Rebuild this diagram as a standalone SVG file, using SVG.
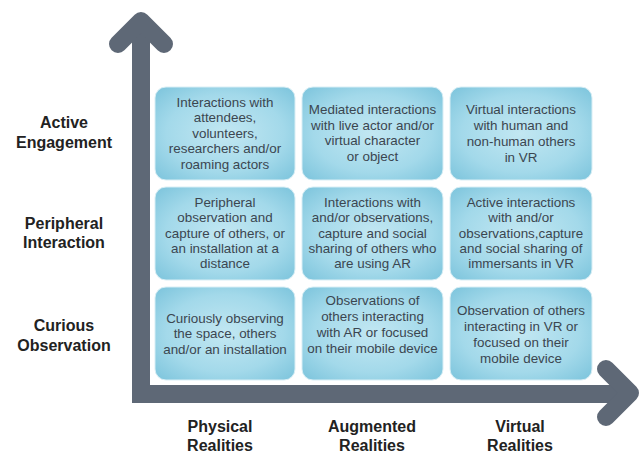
<svg xmlns="http://www.w3.org/2000/svg" width="641" height="455" viewBox="0 0 641 455">
<defs>
<radialGradient id="bg" cx="50%" cy="50%" r="70%">
<stop offset="0" stop-color="#c2e7f2"/>
<stop offset="0.6" stop-color="#a3d9ea"/>
<stop offset="1" stop-color="#7cc4dc"/>
</radialGradient>
<style>
.box{fill:url(#bg);stroke:#d8eef5;stroke-width:1}
.t{font-family:"Liberation Sans",Arial,sans-serif;font-size:13.4px;fill:#3b4650;text-anchor:middle}
.lab{font-family:"Liberation Sans",Arial,sans-serif;font-size:16px;font-weight:bold;fill:#222;text-anchor:middle}
.ax{fill:none;stroke:#5e6876;stroke-width:18}
.hd{fill:none;stroke:#5e6876;stroke-width:18;stroke-linecap:round;stroke-linejoin:round}
</style>
</defs>
<rect width="641" height="455" fill="#fff"/>
<g id="axes">
<path class="ax" d="M141,21 V394 H628" stroke-linejoin="miter"/>
<polyline class="hd" points="118,44 141,21 164,44"/>
<polyline class="hd" points="606,369 630,393 606,417"/>
</g>
<g id="n11"><rect class="box" x="155" y="87" width="140" height="93" rx="11"/>
<text class="t" x="225"><tspan x="225" y="106.5">Interactions with</tspan><tspan x="225" y="122">attendees,</tspan><tspan x="225" y="137.5">volunteers,</tspan><tspan x="225" y="153">researchers and/or</tspan><tspan x="225" y="169">roaming actors</tspan></text></g>
<g id="n12"><rect class="box" x="302" y="87" width="141" height="93" rx="11"/>
<text class="t" x="372.5"><tspan x="372.5" y="113.5">Mediated interactions</tspan><tspan x="372.5" y="129.5">with live actor and/or</tspan><tspan x="372.5" y="145">virtual character</tspan><tspan x="372.5" y="161">or object</tspan></text></g>
<g id="n13"><rect class="box" x="450" y="87" width="142" height="93" rx="11"/>
<text class="t" x="521"><tspan x="521" y="113.5">Virtual interactions</tspan><tspan x="521" y="129.5">with human and</tspan><tspan x="521" y="146">non-human others</tspan><tspan x="521" y="161.5">in VR</tspan></text></g>
<g id="n21"><rect class="box" x="155" y="187" width="140" height="93" rx="11"/>
<text class="t" x="225"><tspan x="225" y="206.5">Peripheral</tspan><tspan x="225" y="222">observation and</tspan><tspan x="225" y="237.5">capture of others, or</tspan><tspan x="225" y="253">an installation at a</tspan><tspan x="225" y="268">distance</tspan></text></g>
<g id="n22"><rect class="box" x="302" y="187" width="141" height="93" rx="11"/>
<text class="t" x="372.5"><tspan x="372.5" y="206.5">Interactions with</tspan><tspan x="372.5" y="222">and/or observations,</tspan><tspan x="372.5" y="237.5">capture and social</tspan><tspan x="372.5" y="253">sharing of others who</tspan><tspan x="372.5" y="268">are using AR</tspan></text></g>
<g id="n23"><rect class="box" x="450" y="187" width="142" height="93" rx="11"/>
<text class="t" x="521"><tspan x="521" y="206.5">Active interactions</tspan><tspan x="521" y="222">with and/or</tspan><tspan x="521" y="237.5">observations,capture</tspan><tspan x="521" y="253">and social sharing of</tspan><tspan x="521" y="268">immersants in VR</tspan></text></g>
<g id="n31"><rect class="box" x="155" y="287" width="140" height="93" rx="11"/>
<text class="t" x="225"><tspan x="225" y="322.5">Curiously observing</tspan><tspan x="225" y="338">the space, others</tspan><tspan x="225" y="354">and/or an installation</tspan></text></g>
<g id="n32"><rect class="box" x="302" y="287" width="141" height="93" rx="11"/>
<text class="t" x="372.5"><tspan x="372.5" y="304.5">Observations of</tspan><tspan x="372.5" y="320.5">others interacting</tspan><tspan x="372.5" y="337">with AR or focused</tspan><tspan x="372.5" y="353">on their mobile device</tspan></text></g>
<g id="n33"><rect class="box" x="450" y="287" width="142" height="93" rx="11"/>
<text class="t" x="521"><tspan x="521" y="314.5">Observation of others</tspan><tspan x="521" y="330.5">interacting in VR or</tspan><tspan x="521" y="346.5">focused on their</tspan><tspan x="521" y="362.5">mobile device</tspan></text></g>
<g id="labels">
<text class="lab"><tspan x="64" y="128">Active</tspan><tspan x="64" y="148">Engagement</tspan></text>
<text class="lab"><tspan x="64" y="229">Peripheral</tspan><tspan x="64" y="248">Interaction</tspan></text>
<text class="lab"><tspan x="64" y="331">Curious</tspan><tspan x="64" y="351">Observation</tspan></text>
<text class="lab"><tspan x="220" y="432">Physical</tspan><tspan x="220" y="451">Realities</tspan></text>
<text class="lab"><tspan x="372" y="432">Augmented</tspan><tspan x="372" y="451">Realities</tspan></text>
<text class="lab"><tspan x="520" y="432">Virtual</tspan><tspan x="520" y="451">Realities</tspan></text>
</g>
</svg>
